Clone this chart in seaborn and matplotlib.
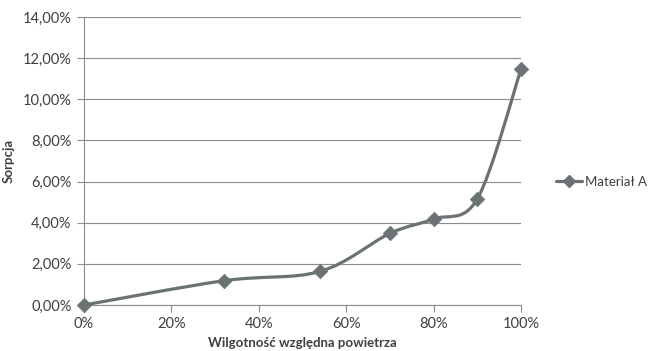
import numpy as np
import pandas as pd
import matplotlib
matplotlib.use("Agg")
import matplotlib.pyplot as plt
from matplotlib.path import Path
from matplotlib.patches import PathPatch
from matplotlib.lines import Line2D
from matplotlib.ticker import FuncFormatter
import seaborn as sns

# Relative air humidity [%] and sorption [%]
humidity = [0, 32, 54, 70, 80, 90, 100]
sorption = [0.00, 1.18, 1.63, 3.48, 4.18, 5.16, 11.46]
series_name = "Materiał A"

x_ticks = [0, 20, 40, 60, 80, 100]
y_ticks = [0, 2, 4, 6, 8, 10, 12, 14]

sns.set_theme(style="white")
plt.rcParams["font.family"] = ["Lato", "DejaVu Sans"]

color = "#6a7274"
grid_c = "#8c8c8c"
text_c = "#404040"

df = pd.DataFrame({"humidity": humidity, "sorption": sorption})

fig = plt.figure(figsize=(6.53, 3.51), dpi=100)
ax = fig.add_axes([84 / 653, 1 - 305 / 351, (521 - 84) / 653, (305 - 17) / 351])


def smooth_path(xs, ys, k=1 / 6):
    """Cubic Bezier path through the points, Excel-style smoothing."""
    pts = np.column_stack([xs, ys]).astype(float)
    n = len(pts)
    verts = [pts[0]]
    codes = [Path.MOVETO]
    for i in range(n - 1):
        p0 = pts[i - 1] if i > 0 else pts[i]
        p1 = pts[i]
        p2 = pts[i + 1]
        p3 = pts[i + 2] if i + 2 < n else pts[i + 1]
        c1 = p1 + (p2 - p0) * k
        c2 = p2 - (p3 - p1) * k
        verts += [c1, c2, p2]
        codes += [Path.CURVE4] * 3
    return Path(verts, codes)


ax.add_patch(PathPatch(smooth_path(df["humidity"], df["sorption"]),
                       facecolor="none", edgecolor=color, lw=2.3,
                       capstyle="round", joinstyle="round", zorder=3))
sns.scatterplot(data=df, x="humidity", y="sorption", marker="D", s=55,
                color=color, edgecolor=color, linewidth=0.5, ax=ax,
                zorder=4, legend=False, clip_on=False)

ax.set_xlim(0, 100)
ax.set_ylim(0, 14)
ax.set_xticks(x_ticks)
ax.set_yticks(y_ticks)
ax.xaxis.set_major_formatter(FuncFormatter(lambda v, p: f"{v:.0f}%"))
ax.yaxis.set_major_formatter(
    FuncFormatter(lambda v, p: f"{v:.2f}%".replace(".", ",")))
ax.yaxis.grid(True, color=grid_c, lw=0.8)
ax.set_axisbelow(True)

for side in ["top", "right"]:
    ax.spines[side].set_visible(False)
for side in ["left", "bottom"]:
    ax.spines[side].set_color(grid_c)
    ax.spines[side].set_linewidth(0.8)

ax.tick_params(axis="both", which="major", length=5, width=0.8,
               color=grid_c, labelsize=10.5, labelcolor=text_c,
               direction="out", bottom=True, left=True)
ax.tick_params(axis="y", pad=4)
ax.tick_params(axis="x", pad=4)

ax.set_xlabel("Wilgotność względna powietrza", fontsize=9.5,
              fontweight="bold", color=text_c, labelpad=4)
ax.set_ylabel("Sorpcja", fontsize=9.5, fontweight="bold", color=text_c,
              labelpad=6)

handle = Line2D([], [], color=color, lw=2.3, marker="D", markersize=6)
leg = fig.legend([handle], [series_name], loc="center left",
                 bbox_to_anchor=(556 / 653, 1 - 182 / 351), frameon=False,
                 fontsize=9.5, handlelength=2.0, handletextpad=0.2,
                 borderaxespad=0, borderpad=0)
for t in leg.get_texts():
    t.set_color(text_c)

fig.savefig("out.png", dpi=100)
